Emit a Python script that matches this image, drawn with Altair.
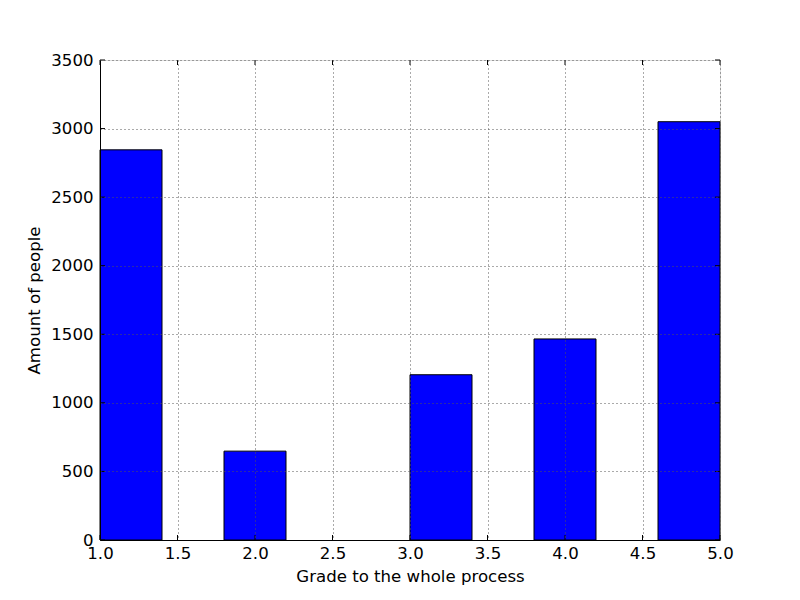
import altair as alt
import pandas as pd

bin_start = [1.0, 1.8, 3.0, 3.8, 4.6]
bin_end = [1.4, 2.2, 3.4, 4.2, 5.0]
counts = [2845, 648, 1205, 1466, 3050]
x_ticks = [1.0, 1.5, 2.0, 2.5, 3.0, 3.5, 4.0, 4.5, 5.0]
y_ticks = [0, 500, 1000, 1500, 2000, 2500, 3000, 3500]

df = pd.DataFrame({"start": bin_start, "end": bin_end, "count": counts})
xt = pd.DataFrame({"v": x_ticks})
yt = pd.DataFrame({"v": y_ticks})

W, H = 620, 480
FONT = "DejaVu Sans"
FS = 16.6

xscale = alt.Scale(domain=[1.0, 5.0], nice=False, zero=False)
yscale = alt.Scale(domain=[0, 3500], nice=False)

xaxis = alt.Axis(values=x_ticks, format=".1f", title="Grade to the whole process",
                 grid=True, gridColor="#555555", gridDash=[1, 3], gridWidth=1,
                 tickSize=0, labelPadding=5, titlePadding=7, zindex=1,
                 domainColor="black", labelFont=FONT, titleFont=FONT,
                 labelFontSize=FS, titleFontSize=FS, titleFontWeight="normal",
                 labelColor="black", titleColor="black", labelFlush=False)
yaxis = alt.Axis(values=y_ticks, format="d", title="Amount of people",
                 grid=True, gridColor="#555555", gridDash=[1, 3], gridWidth=1,
                 tickSize=0, labelPadding=7, titlePadding=8, zindex=1,
                 domainColor="black", labelFont=FONT, titleFont=FONT,
                 labelFontSize=FS, titleFontSize=FS, titleFontWeight="normal",
                 labelColor="black", titleColor="black", labelFlush=False)

bars = alt.Chart(df).mark_rect(fill="#0000ff", stroke="black", strokeWidth=1).encode(
    x=alt.X("start:Q", scale=xscale, axis=xaxis),
    x2="end:Q",
    y=alt.Y("count:Q", scale=yscale, axis=yaxis),
    y2=alt.datum(0),
)

tick_len = 5
xb = alt.Chart(xt).mark_rule(color="black", strokeWidth=1).encode(
    x=alt.X("v:Q", scale=xscale), y=alt.value(H), y2=alt.value(H - tick_len))
xtop = alt.Chart(xt).mark_rule(color="black", strokeWidth=1).encode(
    x=alt.X("v:Q", scale=xscale), y=alt.value(0), y2=alt.value(tick_len))
yl = alt.Chart(yt).mark_rule(color="black", strokeWidth=1).encode(
    y=alt.Y("v:Q", scale=yscale), x=alt.value(0), x2=alt.value(tick_len))
yr = alt.Chart(yt).mark_rule(color="black", strokeWidth=1).encode(
    y=alt.Y("v:Q", scale=yscale), x=alt.value(W), x2=alt.value(W - tick_len))

chart = alt.layer(bars, xb, xtop, yl, yr).properties(
    width=W, height=H,
    autosize=alt.AutoSizeParams(type="none"),
    padding={"left": 92, "top": 52, "right": 72, "bottom": 52},
).configure_view(stroke="black", strokeWidth=1.2).configure(background="white")

chart.save("out.html", embed_options={"renderer": "svg", "actions": False})
